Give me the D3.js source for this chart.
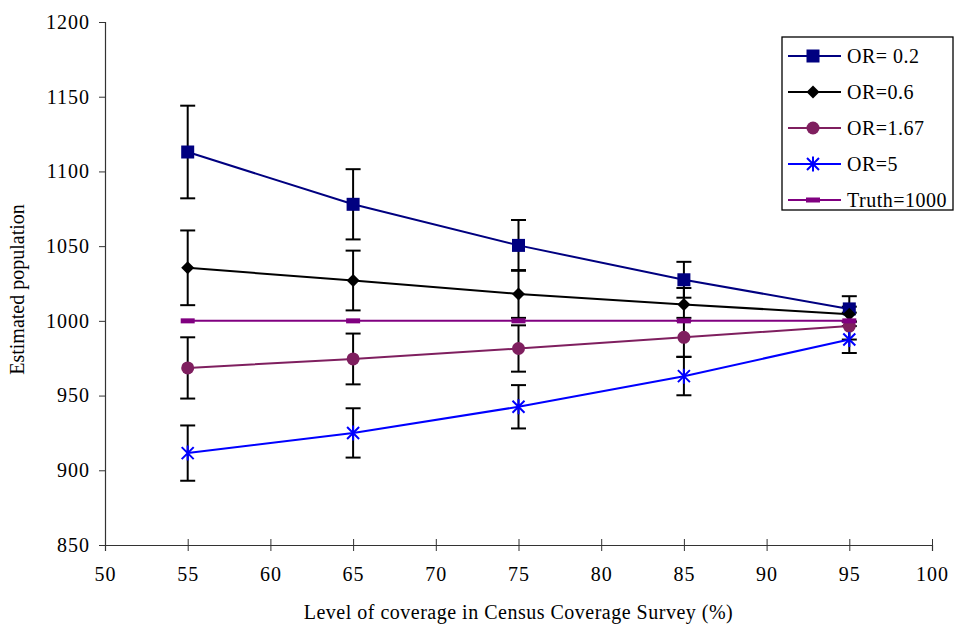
<!DOCTYPE html>
<html>
<head>
  <style>
    body { margin: 0; background: #fff; }
    text { font-family: "Liberation Serif", "Times New Roman", serif; fill: #000; }
  </style>
</head>
<body>
  <script src="https://d3js.org/d3.v7.min.js"></script>
  <script>
    // Data
    var coverage = [55, 65, 75, 85, 95];
    var or02 = [1113, 1078, 1050.5, 1027.5, 1008];
    var err02 = [31, 23.5, 17, 12, 8.5];
    var or06 = [1035.5, 1027, 1018, 1011, 1004.5];
    var err06 = [25, 20, 16, 11, 5];
    var or167 = [968.5, 974.5, 981.5, 989, 996.5];
    var err167 = [20.5, 17, 15.5, 13, 9];
    var or5 = [911.5, 925, 942.5, 963, 987.5];
    var err5 = [18.5, 16.5, 14.5, 12.8, 9];
    var truth = [1000, 1000, 1000, 1000, 1000];
    var xTicks = [50, 55, 60, 65, 70, 75, 80, 85, 90, 95, 100];
    var yTicks = [850, 900, 950, 1000, 1050, 1100, 1150, 1200];

    var series = [
      { name: "OR= 0.2", values: or02, errors: err02, color: "#000080", marker: "square" },
      { name: "OR=0.6", values: or06, errors: err06, color: "#000000", marker: "diamond" },
      { name: "OR=1.67", values: or167, errors: err167, color: "#7f1f5f", marker: "circle" },
      { name: "OR=5", values: or5, errors: err5, color: "#0000ff", marker: "star" },
      { name: "Truth=1000", values: truth, errors: null, color: "#800080", marker: "bar" }
    ];

    var W = 955, H = 628;
    var margin = { top: 22, right: 23, bottom: 83, left: 105 };
    var width = W - margin.left - margin.right,
      height = H - margin.top - margin.bottom;

    var svg = d3.select("body").append("svg")
      .attr("width", W).attr("height", H);

    var g = svg.append("g")
      .attr("transform", "translate(" + margin.left + "," + margin.top + ")");

    var x = d3.scaleLinear().domain([50, 100]).range([0, width]);
    var y = d3.scaleLinear().domain([850, 1200]).range([height, 0]);

    // axes
    var yAxis = g.append("g")
      .call(d3.axisLeft(y).tickValues(yTicks).tickFormat(d3.format("d"))
        .tickSize(6).tickPadding(9));
    var xAxis = g.append("g")
      .attr("transform", "translate(0," + height + ")")
      .call(d3.axisBottom(x).tickValues(xTicks).tickFormat(d3.format("d"))
        .tickSize(6).tickPadding(16));
    xAxis.selectAll(".tick line").attr("y1", -6);
    [xAxis, yAxis].forEach(function (a) {
      a.select(".domain").attr("stroke", "#333").attr("stroke-width", 1.2);
      a.selectAll(".tick line").attr("stroke", "#333");
      a.selectAll("text").style("font-size", "20px").style("letter-spacing", "1px")
        .style("font-family", '"Liberation Serif", serif').attr("fill", "#000");
    });

    // axis titles
    svg.append("text")
      .attr("x", margin.left + width / 2).attr("y", 619)
      .attr("text-anchor", "middle").style("font-size", "20px").style("letter-spacing", "0.5px")
      .text("Level of coverage in Census Coverage Survey (%)");
    svg.append("text")
      .attr("transform", "translate(24," + (margin.top + height / 2 + 6) + ") rotate(-90)")
      .attr("text-anchor", "middle").style("font-size", "20px")
      .text("Estimated population");

    // marker drawing helper
    function drawMarker(sel, type, color) {
      if (type === "square") {
        sel.append("rect").attr("x", -6.5).attr("y", -6.5).attr("width", 13).attr("height", 13)
          .attr("fill", color);
      } else if (type === "diamond") {
        sel.append("path").attr("d", "M0,-6.5L6.5,0L0,6.5L-6.5,0Z").attr("fill", color);
      } else if (type === "circle") {
        sel.append("circle").attr("r", 6.5).attr("fill", color);
      } else if (type === "star") {
        sel.append("path")
          .attr("d", "M-6,-6L6,6M-6,6L6,-6M0,-7.5L0,7.5")
          .attr("stroke", color).attr("stroke-width", 2).attr("fill", "none");
      } else if (type === "bar") {
        sel.append("rect").attr("x", -7).attr("y", -2.5).attr("width", 14).attr("height", 5)
          .attr("fill", color);
      }
    }

    // error bars first
    series.forEach(function (s) {
      if (!s.errors) return;
      var eb = g.append("g").attr("stroke", "#000").attr("stroke-width", 2);
      coverage.forEach(function (c, i) {
        var cx = x(c), y1 = y(s.values[i] + s.errors[i]), y2 = y(s.values[i] - s.errors[i]);
        eb.append("line").attr("x1", cx).attr("x2", cx).attr("y1", y1).attr("y2", y2);
        eb.append("line").attr("x1", cx - 7.5).attr("x2", cx + 7.5).attr("y1", y1).attr("y2", y1);
        eb.append("line").attr("x1", cx - 7.5).attr("x2", cx + 7.5).attr("y1", y2).attr("y2", y2);
      });
    });

    // lines and markers
    var line = d3.line().x(function (d) { return x(d[0]); }).y(function (d) { return y(d[1]); });
    series.forEach(function (s) {
      var pts = coverage.map(function (c, i) { return [c, s.values[i]]; });
      g.append("path").datum(pts).attr("d", line)
        .attr("fill", "none").attr("stroke", s.color).attr("stroke-width", 2);
      pts.forEach(function (p) {
        var m = g.append("g").attr("transform", "translate(" + x(p[0]) + "," + y(p[1]) + ")");
        drawMarker(m, s.marker, s.color);
      });
    });

    // legend
    var legend = svg.append("g");
    legend.append("rect").attr("x", 782).attr("y", 37).attr("width", 171).attr("height", 173)
      .attr("fill", "#fff").attr("stroke", "#000").attr("stroke-width", 1.3);
    series.forEach(function (s, i) {
      var ly = 56 + i * 36;
      legend.append("line").attr("x1", 788).attr("x2", 841).attr("y1", ly).attr("y2", ly)
        .attr("stroke", s.color).attr("stroke-width", 2);
      var m = legend.append("g").attr("transform", "translate(813," + ly + ")");
      drawMarker(m, s.marker, s.color);
      legend.append("text").attr("x", 847).attr("y", ly + 7)
        .style("font-size", "20px").style("letter-spacing", "0.5px").text(s.name);
    });
  </script>
</body>
</html>
